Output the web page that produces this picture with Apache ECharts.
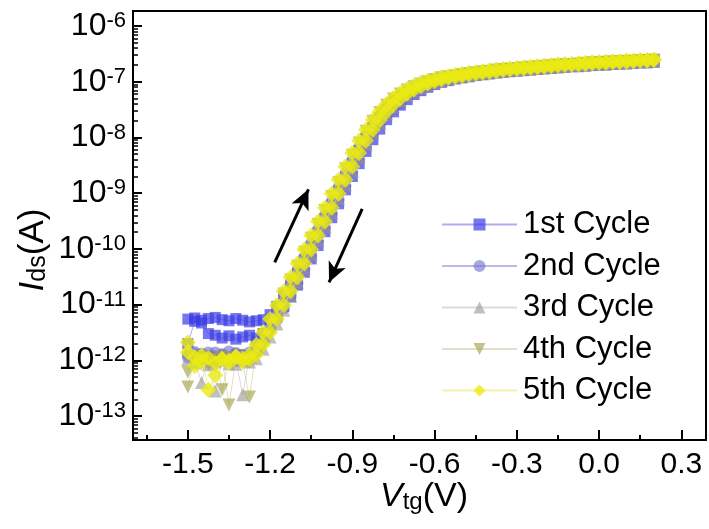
<!DOCTYPE html>
<html>
<head>
<meta charset="utf-8">
<script src="https://cdn.jsdelivr.net/npm/echarts@6/dist/echarts.min.js"></script>
<style>
  html, body { margin: 0; padding: 0; background: #fff; }
  #chart { width: 709px; height: 529px; }
</style>
</head>
<body>
<div id="chart"></div>
<script>
// Top-gate transfer sweeps, five cycles. Currents are stored as log10(Ids / A).
const volts = [-1.500,-1.475,-1.450,-1.425,-1.400,-1.375,-1.350,-1.325,-1.300,-1.275,
  -1.250,-1.225,-1.200,-1.175,-1.150,-1.125,-1.100,-1.075,-1.050,-1.025,
  -1.000,-0.975,-0.950,-0.925,-0.900,-0.875,-0.850,-0.825,-0.800,-0.775,
  -0.750,-0.725,-0.700,-0.675,-0.650,-0.625,-0.600,-0.575,-0.550,-0.525,
  -0.500,-0.475,-0.450,-0.425,-0.400,-0.375,-0.350,-0.325,-0.300,-0.275,
  -0.250,-0.225,-0.200,-0.175,-0.150,-0.125,-0.100,-0.075,-0.050,-0.025,
  0.000,0.025,0.050,0.075,0.100,0.125,0.150,0.175,0.200];

// forward sweep (up) and return sweep (down), both listed from -1.5 V to 0.2 V
const c1Up = [-11.26,-11.24,-11.28,-11.25,-11.23,-11.27,-11.29,-11.25,-11.28,-11.31,
  -11.29,-11.27,-11.18,-11.03,-10.85,-10.65,-10.43,-10.20,-9.96,-9.71,
  -9.46,-9.21,-8.96,-8.71,-8.47,-8.23,-8.01,-7.82,-7.64,-7.49,
  -7.37,-7.27,-7.19,-7.12,-7.07,-7.02,-6.98,-6.95,-6.93,-6.91,
  -6.89,-6.87,-6.86,-6.84,-6.83,-6.81,-6.80,-6.79,-6.78,-6.77,
  -6.76,-6.75,-6.74,-6.73,-6.72,-6.71,-6.71,-6.70,-6.69,-6.68,
  -6.68,-6.67,-6.66,-6.66,-6.65,-6.65,-6.64,-6.64,-6.63];
const c1Down = [-11.70,-11.30,-11.33,-11.52,-11.55,-11.60,-11.56,-11.62,-11.58,-11.55,
  -11.60,-11.52,-11.38,-11.22,-11.04,-10.86,-10.65,-10.42,-10.18,-9.94,
  -9.69,-9.44,-9.19,-8.94,-8.70,-8.47,-8.25,-8.04,-7.85,-7.68,
  -7.54,-7.42,-7.32,-7.23,-7.16,-7.10,-7.05,-7.01,-6.98,-6.95,
  -6.93,-6.91,-6.89,-6.87,-6.86,-6.84,-6.83,-6.82,-6.81,-6.80,
  -6.79,-6.78,-6.77,-6.76,-6.75,-6.74,-6.73,-6.73,-6.72,-6.71,
  -6.70,-6.70,-6.69,-6.68,-6.68,-6.67,-6.66,-6.66,-6.65];
const c2Up = [-11.90,-11.85,-11.88,-11.92,-11.86,-11.90,-11.84,-11.88,-11.91,-11.86,
  -11.75,-11.52,-11.24,-11.05,-10.84,-10.62,-10.39,-10.15,-9.90,-9.65,
  -9.40,-9.15,-8.90,-8.65,-8.41,-8.18,-7.97,-7.78,-7.62,-7.48,
  -7.36,-7.26,-7.18,-7.11,-7.06,-7.01,-6.97,-6.94,-6.92,-6.90,
  -6.88,-6.86,-6.85,-6.83,-6.82,-6.80,-6.79,-6.78,-6.77,-6.76,
  -6.75,-6.74,-6.73,-6.72,-6.71,-6.70,-6.70,-6.69,-6.68,-6.67,
  -6.67,-6.66,-6.65,-6.65,-6.64,-6.64,-6.63,-6.63,-6.62];
const c2Down = [-11.95,-11.88,-11.92,-11.86,-11.93,-11.89,-11.95,-11.87,-11.90,-11.92,
  -11.85,-11.66,-11.45,-11.27,-11.06,-10.84,-10.61,-10.37,-10.12,-9.87,
  -9.62,-9.37,-9.12,-8.87,-8.63,-8.39,-8.17,-7.96,-7.78,-7.62,
  -7.49,-7.38,-7.28,-7.20,-7.14,-7.08,-7.03,-6.99,-6.96,-6.93,
  -6.91,-6.89,-6.87,-6.86,-6.84,-6.83,-6.81,-6.80,-6.79,-6.78,
  -6.77,-6.76,-6.75,-6.74,-6.73,-6.72,-6.71,-6.71,-6.70,-6.69,
  -6.68,-6.68,-6.67,-6.66,-6.66,-6.65,-6.64,-6.64,-6.63];
const c3Up = [-11.80,-12.02,-12.40,-11.95,-12.03,-11.97,-12.06,-11.99,-12.62,-11.93,
  -11.80,-11.59,-11.36,-11.11,-10.86,-10.61,-10.36,-10.11,-9.86,-9.61,
  -9.36,-9.11,-8.86,-8.61,-8.37,-8.14,-7.93,-7.74,-7.58,-7.44,
  -7.33,-7.23,-7.16,-7.10,-7.05,-7.01,-6.97,-6.94,-6.92,-6.90,
  -6.88,-6.86,-6.85,-6.83,-6.82,-6.80,-6.79,-6.78,-6.77,-6.76,
  -6.75,-6.74,-6.73,-6.72,-6.71,-6.70,-6.70,-6.69,-6.68,-6.67,
  -6.67,-6.66,-6.65,-6.65,-6.64,-6.64,-6.63,-6.63,-6.62];
const c3Down = [-11.98,-12.05,-11.97,-12.08,-12.55,-12.00,-11.96,-12.07,-12.00,-12.03,
  -11.97,-11.80,-11.58,-11.35,-11.10,-10.85,-10.60,-10.35,-10.10,-9.85,
  -9.60,-9.35,-9.10,-8.85,-8.60,-8.36,-8.13,-7.92,-7.74,-7.58,
  -7.45,-7.34,-7.25,-7.17,-7.11,-7.06,-7.02,-6.98,-6.95,-6.93,
  -6.91,-6.89,-6.87,-6.86,-6.84,-6.83,-6.81,-6.80,-6.79,-6.78,
  -6.77,-6.76,-6.75,-6.74,-6.73,-6.72,-6.71,-6.71,-6.70,-6.69,
  -6.68,-6.68,-6.67,-6.66,-6.66,-6.65,-6.64,-6.64,-6.63];
const c4Up = [-12.21,-12.00,-11.93,-12.08,-11.98,-12.53,-12.02,-11.95,-12.05,-12.66,
  -11.78,-11.55,-11.31,-11.06,-10.81,-10.56,-10.31,-10.06,-9.81,-9.56,
  -9.31,-9.06,-8.81,-8.56,-8.32,-8.10,-7.89,-7.71,-7.55,-7.42,
  -7.31,-7.22,-7.15,-7.09,-7.04,-7.00,-6.96,-6.93,-6.91,-6.89,
  -6.87,-6.85,-6.84,-6.82,-6.81,-6.79,-6.78,-6.77,-6.76,-6.75,
  -6.74,-6.73,-6.72,-6.71,-6.70,-6.69,-6.69,-6.68,-6.67,-6.66,
  -6.66,-6.65,-6.64,-6.64,-6.63,-6.63,-6.62,-6.62,-6.61];
const c4Down = [-12.48,-11.96,-12.06,-11.99,-12.10,-11.94,-12.80,-12.01,-11.96,-12.04,
  -11.95,-11.76,-11.55,-11.30,-11.05,-10.80,-10.55,-10.30,-10.05,-9.80,
  -9.55,-9.30,-9.05,-8.80,-8.55,-8.31,-8.09,-7.89,-7.71,-7.56,
  -7.43,-7.32,-7.23,-7.16,-7.10,-7.05,-7.01,-6.97,-6.94,-6.92,
  -6.90,-6.88,-6.86,-6.85,-6.83,-6.82,-6.80,-6.79,-6.78,-6.77,
  -6.76,-6.75,-6.74,-6.73,-6.72,-6.71,-6.70,-6.70,-6.69,-6.68,
  -6.67,-6.67,-6.66,-6.65,-6.65,-6.64,-6.63,-6.63,-6.62];
const c5Up = [-11.68,-11.95,-12.02,-11.96,-12.05,-11.98,-12.00,-11.94,-11.97,-11.90,
  -11.72,-11.50,-11.26,-11.01,-10.76,-10.51,-10.26,-10.01,-9.76,-9.51,
  -9.26,-9.01,-8.76,-8.52,-8.28,-8.06,-7.86,-7.68,-7.53,-7.40,
  -7.29,-7.20,-7.13,-7.07,-7.02,-6.98,-6.95,-6.92,-6.90,-6.88,
  -6.86,-6.84,-6.83,-6.81,-6.80,-6.78,-6.77,-6.76,-6.75,-6.74,
  -6.73,-6.72,-6.71,-6.70,-6.69,-6.68,-6.68,-6.67,-6.66,-6.65,
  -6.65,-6.64,-6.63,-6.63,-6.62,-6.62,-6.61,-6.61,-6.60];
const c5Down = [-11.85,-12.10,-11.92,-12.53,-12.27,-11.97,-12.05,-11.93,-12.02,-11.98,
  -11.90,-11.72,-11.50,-11.26,-11.01,-10.76,-10.51,-10.26,-10.01,-9.76,
  -9.51,-9.26,-9.01,-8.76,-8.52,-8.28,-8.06,-7.86,-7.69,-7.54,
  -7.41,-7.30,-7.21,-7.14,-7.08,-7.03,-6.99,-6.96,-6.93,-6.91,
  -6.89,-6.87,-6.85,-6.84,-6.82,-6.81,-6.79,-6.78,-6.77,-6.76,
  -6.75,-6.74,-6.73,-6.72,-6.71,-6.70,-6.69,-6.69,-6.68,-6.67,
  -6.66,-6.66,-6.65,-6.64,-6.64,-6.63,-6.62,-6.62,-6.61];

const cycleNames = ['1st Cycle', '2nd Cycle', '3rd Cycle', '4th Cycle', '5th Cycle'];
const sweepsUp = [c1Up, c2Up, c3Up, c4Up, c5Up];
const sweepsDown = [c1Down, c2Down, c3Down, c4Down, c5Down];

// axis ticks
const xTickLabels = [-1.5, -1.2, -0.9, -0.6, -0.3, 0.0, 0.3];
const xMinorTicks = [-1.65, -1.35, -1.05, -0.75, -0.45, -0.15, 0.15];
const yTickExps = [-13, -12, -11, -10, -9, -8, -7, -6];

// sweep-direction arrows (V, log10 I)
const arrowUp = [[-1.183, -10.24], [-1.060, -8.93]];
const arrowDown = [[-0.864, -9.28], [-0.985, -10.60]];

const X_MIN = -1.70, X_MAX = 0.39;
const Y_MIN = -13.43, Y_MAX = -5.73;
const FONT = "'Liberation Sans', Arial, Helvetica, sans-serif";

const markerStyle = [
  { symbol: 'rect', size: 11, rotate: 0, fill: 'rgba(60,60,230,0.7)', line: 'rgba(120,120,235,0.6)' },
  { symbol: 'circle', size: 12, rotate: 0, fill: 'rgba(110,110,205,0.6)', line: 'rgba(140,140,215,0.6)' },
  { symbol: 'triangle', size: 13, rotate: 0, fill: 'rgba(150,150,150,0.6)', line: 'rgba(190,190,190,0.55)' },
  { symbol: 'triangle', size: 13, rotate: 180, fill: 'rgba(165,165,75,0.65)', line: 'rgba(200,200,150,0.55)' },
  { symbol: 'diamond', size: 16, rotate: 0, fill: 'rgba(234,234,20,0.8)', line: 'rgba(235,235,110,0.6)' }
];

// minor ticks of a log scale: 2..9 x 10^n inside the visible range
const yMinorTicks = [];
for (let n = -14; n <= -6; n++) {
  for (let k = 2; k <= 9; k++) {
    const v = n + Math.log10(k);
    if (v > Y_MIN && v < Y_MAX) yMinorTicks.push(v);
  }
}

function loopPoints(up, down) {
  const pts = volts.map((v, i) => [v, up[i]]);
  for (let i = volts.length - 1; i >= 0; i--) pts.push([volts[i], down[i]]);
  return pts;
}

const series = cycleNames.map((name, k) => {
  const st = markerStyle[k];
  const s = {
    name: name,
    type: 'line',
    xAxisIndex: 0,
    yAxisIndex: 0,
    data: loopPoints(sweepsUp[k], sweepsDown[k]),
    symbol: st.symbol,
    symbolSize: st.size,
    symbolRotate: st.rotate,
    showSymbol: true,
    itemStyle: { color: st.fill, borderWidth: 0 },
    lineStyle: { color: st.line, width: 1 },
    emphasis: { disabled: true },
    z: 2 + k
  };
  if (k === cycleNames.length - 1) {
    s.markLine = {
      silent: true,
      symbol: ['none', 'arrow'],
      symbolSize: [14, 20],
      label: { show: false },
      emphasis: { disabled: true },
      lineStyle: { color: '#000', width: 3, type: 'solid', opacity: 1 },
      data: [arrowUp, arrowDown].map(a => [{ coord: a[0] }, { coord: a[1] }])
    };
  }
  return s;
});

const chart = echarts.init(document.getElementById('chart'), null, { renderer: 'canvas' });
chart.setOption({
  animation: false,
  backgroundColor: '#fff',
  textStyle: { fontFamily: FONT },
  grid: {
    left: 133, right: 3, top: 11, bottom: 89,
    show: true, borderColor: '#000', borderWidth: 2, backgroundColor: 'transparent'
  },
  legend: {
    orient: 'vertical',
    left: 436, top: 204,
    itemWidth: 75, itemHeight: 15, itemGap: 10.5,
    data: cycleNames,
    textStyle: { fontSize: 31, fontFamily: FONT, color: '#000', lineHeight: 30, padding: [0, 0, 0, 1] }
  },
  xAxis: [{
    type: 'value', position: 'bottom', min: X_MIN, max: X_MAX,
    axisLine: { show: true, onZero: false, lineStyle: { color: '#000', width: 2 } },
    axisTick: { show: true, inside: true, length: 10, customValues: xTickLabels, lineStyle: { color: '#000', width: 2 } },
    axisLabel: {
      show: true, customValues: xTickLabels, margin: 10,
      fontSize: 30, fontFamily: FONT, color: '#000',
      formatter: v => v.toFixed(1)
    },
    splitLine: { show: false }
  }, {
    type: 'value', position: 'bottom', min: X_MIN, max: X_MAX,
    axisLine: { show: false, onZero: false },
    axisTick: { show: true, inside: true, length: 5, customValues: xMinorTicks, lineStyle: { color: '#000', width: 2 } },
    axisLabel: { show: false },
    splitLine: { show: false }
  }],
  yAxis: [{
    type: 'value', position: 'left', min: Y_MIN, max: Y_MAX,
    axisLine: { show: true, onZero: false, lineStyle: { color: '#000', width: 2 } },
    axisTick: { show: true, inside: true, length: 9, customValues: yTickExps, lineStyle: { color: '#000', width: 2 } },
    axisLabel: {
      show: true, customValues: yTickExps, margin: 7,
      formatter: v => '{b|10}{s|' + Math.round(v) + '}',
      rich: {
        b: { fontSize: 32, fontFamily: FONT, color: '#000', lineHeight: 32, padding: [9, 0, 0, 0], verticalAlign: 'bottom' },
        s: { fontSize: 22, fontFamily: FONT, color: '#000', lineHeight: 22, verticalAlign: 'top' }
      }
    },
    splitLine: { show: false }
  }, {
    type: 'value', position: 'left', min: Y_MIN, max: Y_MAX,
    axisLine: { show: false, onZero: false },
    axisTick: { show: true, inside: true, length: 5, customValues: yMinorTicks, lineStyle: { color: '#000', width: 1.5 } },
    axisLabel: { show: false },
    splitLine: { show: false }
  }],
  graphic: [{
    type: 'text', x: 33, y: 250, rotation: Math.PI / 2, silent: true,
    style: {
      text: '{i|I}{d|ds}{p|(A)}',
      align: 'center', verticalAlign: 'middle',
      rich: {
        i: { fontSize: 35, fontStyle: 'italic', fontFamily: FONT, fill: '#000', lineHeight: 35, padding: [0, 0, 8, 0], verticalAlign: 'top' },
        d: { fontSize: 25, fontFamily: FONT, fill: '#000', lineHeight: 25, verticalAlign: 'bottom' },
        p: { fontSize: 35, fontFamily: FONT, fill: '#000', lineHeight: 35, padding: [0, 0, 8, 0], verticalAlign: 'top' }
      }
    }
  }, {
    type: 'text', x: 424, y: 497, silent: true,
    style: {
      text: '{i|V}{d|tg}{p|(V)}',
      align: 'center', verticalAlign: 'middle',
      rich: {
        i: { fontSize: 34, fontStyle: 'italic', fontFamily: FONT, fill: '#000', lineHeight: 34, padding: [0, 0, 8, 0], verticalAlign: 'top' },
        d: { fontSize: 24, fontFamily: FONT, fill: '#000', lineHeight: 24, verticalAlign: 'bottom' },
        p: { fontSize: 34, fontFamily: FONT, fill: '#000', lineHeight: 34, padding: [0, 0, 8, 0], verticalAlign: 'top' }
      }
    }
  }],
  series: series
});
</script>
</body>
</html>
